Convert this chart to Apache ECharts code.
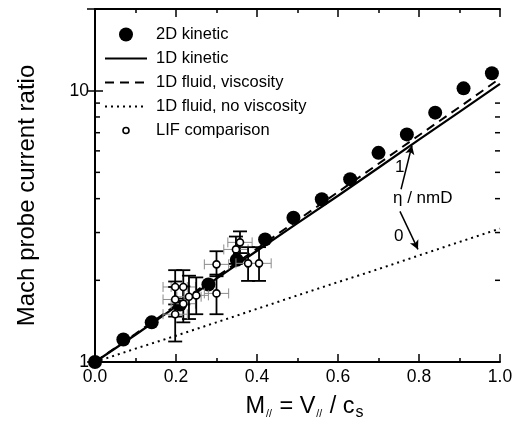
<!DOCTYPE html>
<html><head><meta charset="utf-8">
<script src="https://cdn.jsdelivr.net/npm/echarts@6/dist/echarts.min.js"></script>
<style>html,body{margin:0;padding:0;background:#fff}#c{width:520px;height:426px}</style>
</head><body><div id="c"></div>
<script>
// ---- data ----
const kinetic2DX = [0, 0.07, 0.14, 0.21, 0.28, 0.35, 0.42, 0.49, 0.56, 0.63, 0.70, 0.77, 0.84, 0.91, 0.98];
const kinetic2DY = [1.0, 1.21, 1.40, 1.63, 1.93, 2.38, 2.83, 3.40, 3.98, 4.72, 5.90, 6.90, 8.30, 10.2, 11.6];
const lineX = [0, 0.1, 0.2, 0.3, 0.4, 0.5, 0.6, 0.7, 0.8, 0.9, 1.0];
const kinetic1DY = [1.0, 1.26, 1.60, 2.03, 2.57, 3.25, 4.10, 5.20, 6.60, 8.35, 10.6];
const fluidViscY = [1.0, 1.27, 1.62, 2.06, 2.62, 3.33, 4.23, 5.38, 6.85, 8.70, 11.1];
const fluidNoViscY = [1.0, 1.12, 1.25, 1.40, 1.57, 1.76, 1.97, 2.20, 2.47, 2.77, 3.10];
const lifX = [0.198, 0.218, 0.198, 0.218, 0.232, 0.250, 0.198, 0.300, 0.300, 0.358, 0.348, 0.378, 0.405];
const lifY = [1.89, 1.89, 1.70, 1.64, 1.74, 1.76, 1.50, 2.29, 1.79, 2.76, 2.60, 2.31, 2.31];
const lifYLow = [1.63, 1.63, 1.47, 1.40, 1.44, 1.50, 1.19, 2.07, 1.50, 2.52, 2.30, 1.99, 1.99];
const lifYHigh = [2.18, 2.18, 1.98, 1.90, 2.08, 2.05, 1.89, 2.56, 2.10, 3.03, 2.90, 2.65, 2.65];
const lifXErr = [0.03, 0.03, 0.03, 0.03, 0.03, 0.03, 0.03, 0.03, 0.03, 0.03, 0.03, 0.03, 0.03];
const yMinorTicks = [2, 3, 4, 5, 6, 7, 8, 9];
const arrowFrom = [[0.7556, 4.33], [0.753, 3.59]];
const arrowTo = [[0.7827, 6.28], [0.7975, 2.60]];
const legendNames = ['2D kinetic', '1D kinetic', '1D fluid, viscosity', '1D fluid, no viscosity', 'LIF comparison'];

const FONT = 'Liberation Sans, Arial, Helvetica, sans-serif';
const pair = (xs, ys) => xs.map((x, i) => [x, ys[i]]);

const chart = echarts.init(document.getElementById('c'), null, {renderer: 'canvas'});

const axisLine = {show: true, lineStyle: {color: '#000', width: 2}};
const xAxisBase = {
  type: 'value', min: 0, max: 1, interval: 0.2,
  axisLine: axisLine,
  axisTick: {inside: true, length: 8, lineStyle: {color: '#000', width: 1.5}},
  minorTick: {show: true, splitNumber: 2, length: 4, lineStyle: {color: '#000', width: 1.5}},
  splitLine: {show: false}, minorSplitLine: {show: false}
};
const yAxisBase = {
  type: 'log', logBase: 10, min: 1, max: 20,
  axisLine: axisLine,
  axisTick: {inside: true, length: 8, lineStyle: {color: '#000', width: 1.5}},
  splitLine: {show: false}
};

const option = {
  animation: false,
  backgroundColor: '#fff',
  grid: {left: 95, right: 20, top: 9, bottom: 63},
  legend: {
    orient: 'vertical', left: 104, top: 26, padding: 0,
    itemWidth: 42, itemHeight: 14, itemGap: 7,
    textStyle: {fontFamily: FONT, fontSize: 16.5, color: '#000', padding: [0, 0, 0, 4]},
    data: [
      {name: legendNames[0], icon: 'circle', itemStyle: {color: '#000', opacity: 1}},
      {name: legendNames[1], itemStyle: {opacity: 0}},
      {name: legendNames[2], itemStyle: {opacity: 0}},
      {name: legendNames[3], itemStyle: {opacity: 0}},
      {name: legendNames[4], icon: 'path://M0,0 M14,14 M10,7 A3,3 0 1,1 4,7 A3,3 0 1,1 10,7 Z',
        itemStyle: {color: '#fff', borderColor: '#000', borderWidth: 1.6, opacity: 1}}
    ]
  },
  xAxis: [
    Object.assign({}, xAxisBase, {
      position: 'bottom',
      axisLabel: {fontFamily: FONT, fontSize: 17.5, color: '#000', margin: 6, formatter: v => v.toFixed(1)},
      name: '{m|M}{sub|//}{m| = V}{sub|//}{m| / c}{s|s}',
      nameLocation: 'middle', nameGap: 31,
      nameTextStyle: {
        padding: [0, 0, 0, 14],
        rich: {
          m: {fontFamily: FONT, fontSize: 23.5, color: '#000'},
          sub: {fontFamily: FONT, fontSize: 10.5, color: '#000', padding: [15, 1, 0, 1]},
          s: {fontFamily: FONT, fontSize: 16, color: '#000', padding: [12, 0, 0, 1]}
        }
      }
    }),
    Object.assign({}, xAxisBase, {position: 'top', axisLabel: {show: false}})
  ],
  yAxis: [
    Object.assign({}, yAxisBase, {
      position: 'left',
      axisLabel: {fontFamily: FONT, fontSize: 17.5, color: '#000', margin: 6, showMaxLabel: false,
        formatter: v => (Math.abs(v - 1) < 1e-6 || Math.abs(v - 10) < 1e-6) ? String(Math.round(v)) : ''},
      name: 'Mach probe current ratio', nameLocation: 'middle', nameGap: 56,
      nameTextStyle: {fontFamily: FONT, fontSize: 24, color: '#000', padding: [0, 20, 0, 0]}
    }),
    Object.assign({}, yAxisBase, {position: 'right', axisLabel: {show: false}})
  ],
  graphic: [
    {type: 'text', left: 395, top: 159, style: {text: '1', font: '17px ' + FONT, fill: '#000'}},
    {type: 'text', left: 393, top: 190, style: {text: 'η / nmD', font: '17px ' + FONT, fill: '#000'}},
    {type: 'text', left: 394, top: 228, style: {text: '0', font: '17px ' + FONT, fill: '#000'}}
  ],
  series: [
    {
      name: legendNames[3], type: 'line', data: pair(lineX, fluidNoViscY),
      symbol: 'none', lineStyle: {color: '#000', width: 2, type: [2, 4]}, z: 1
    },
    {
      name: legendNames[2], type: 'line', data: pair(lineX, fluidViscY),
      symbol: 'none', lineStyle: {color: '#000', width: 2, type: [9, 6]}, z: 1
    },
    {
      name: legendNames[1], type: 'line', data: pair(lineX, kinetic1DY),
      symbol: 'none', lineStyle: {color: '#000', width: 2.2, type: 'solid'}, z: 1,
      markLine: {
        silent: true, symbol: ['none', 'arrow'], symbolSize: [7, 9],
        lineStyle: {color: '#000', width: 1.5, type: 'solid'}, label: {show: false},
        data: arrowFrom.map((a, i) => [{coord: a}, {coord: arrowTo[i]}])
      }
    },
    {
      name: legendNames[0], type: 'scatter', data: pair(kinetic2DX, kinetic2DY),
      symbol: 'circle', symbolSize: 14, itemStyle: {color: '#000', opacity: 1}, z: 3, clip: false
    },
    {
      name: 'LIF errors', type: 'custom', z: 4, clip: false,
      data: lifX.map((x, i) => [x, lifY[i], x - lifXErr[i], x + lifXErr[i], lifYLow[i], lifYHigh[i]]),
      encode: {x: [0, 2, 3], y: [1, 4, 5]},
      renderItem: function (params, api) {
        const x = api.value(0), y = api.value(1);
        const pl = api.coord([api.value(2), y]);
        const ph = api.coord([api.value(3), y]);
        const vl = api.coord([x, api.value(4)]);
        const vh = api.coord([x, api.value(5)]);
        const g = {stroke: '#8c8c8c', lineWidth: 1};
        const b = {stroke: '#000', lineWidth: 1.8};
        const ln = (x1, y1, x2, y2, s) => ({type: 'line', shape: {x1, y1, x2, y2}, style: s});
        return {type: 'group', children: [
          ln(pl[0], pl[1], ph[0], ph[1], g),
          ln(pl[0], pl[1] - 5, pl[0], pl[1] + 5, g),
          ln(ph[0], ph[1] - 5, ph[0], ph[1] + 5, g),
          ln(vl[0], vl[1], vh[0], vh[1], b),
          ln(vl[0] - 7, vl[1], vl[0] + 7, vl[1], b),
          ln(vh[0] - 7, vh[1], vh[0] + 7, vh[1], b)
        ]};
      }
    },
    {
      name: legendNames[4], type: 'scatter', data: pair(lifX, lifY),
      symbol: 'circle', symbolSize: 7,
      itemStyle: {color: '#fff', borderColor: '#000', borderWidth: 1.6, opacity: 1}, z: 5, clip: false
    },
    {
      name: 'y minor ticks', type: 'custom', z: 6, clip: false, silent: true,
      data: yMinorTicks.map(v => [0, v]),
      encode: {x: 0, y: 1},
      renderItem: function (params, api) {
        const cs = params.coordSys;
        const p = api.coord([0, api.value(1)]);
        const s = {stroke: '#000', lineWidth: 1.5};
        return {type: 'group', children: [
          {type: 'line', shape: {x1: cs.x, y1: p[1], x2: cs.x + 5, y2: p[1]}, style: s},
          {type: 'line', shape: {x1: cs.x + cs.width - 5, y1: p[1], x2: cs.x + cs.width, y2: p[1]}, style: s}
        ]};
      }
    }
  ]
};
chart.setOption(option);
</script>
</body></html>
